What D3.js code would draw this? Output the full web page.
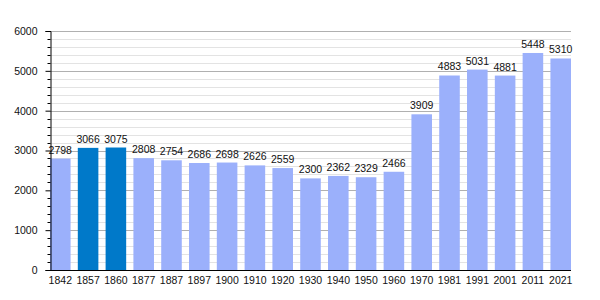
<!DOCTYPE html>
<html>
<head>
<meta charset="utf-8">
<script src="https://cdn.jsdelivr.net/npm/d3@7"></script>
<style>
  body { margin: 0; background: #fff; }
  svg text { font-family: "Liberation Sans", Arial, sans-serif; font-size: 10.5px; fill: #111; }
</style>
</head>
<body>
<svg class="chart"></svg>
<script>
const years = ["1842","1857","1860","1877","1887","1897","1900","1910","1920","1930","1940","1950","1960","1970","1981","1991","2001","2011","2021"]
const population = [2798,3066,3075,2808,2754,2686,2698,2626,2559,2300,2362,2329,2466,3909,4883,5031,4881,5448,5310]
const highlighted = ["1857","1860"]
const yTicks = [0,1000,2000,3000,4000,5000,6000]

const width = 600, height = 300
const margin = {left: 50, right: 29, top: 31, bottom: 30}
const svg = d3.select(".chart").attr("width", width).attr("height", height)

const x = d3.scaleBand().domain(years).range([margin.left, width - margin.right]).paddingInner(0.26).paddingOuter(0)
const y = d3.scaleLinear().domain([0, 6000]).range([height - margin.bottom, margin.top])

// minor grid every 200
const minor = d3.range(200, 6001, 200).filter(v => v % 1000 !== 0)
svg.append("g").selectAll("line").data(minor).join("line")
  .attr("x1", margin.left).attr("x2", width - margin.right)
  .attr("y1", d => Math.round(y(d)) + 0.5).attr("y2", d => Math.round(y(d)) + 0.5)
  .attr("stroke", "#e3e3e3")
// major grid
svg.append("g").selectAll("line").data(yTicks.slice(1)).join("line")
  .attr("x1", margin.left).attr("x2", width - margin.right)
  .attr("y1", d => Math.round(y(d)) + 0.5).attr("y2", d => Math.round(y(d)) + 0.5)
  .attr("stroke", "#b0b0b0")

// bars
svg.append("g").selectAll("rect").data(population).join("rect")
  .attr("x", (d, i) => x(years[i]))
  .attr("width", x.bandwidth())
  .attr("y", d => y(d))
  .attr("height", d => y(0) - y(d))
  .attr("fill", (d, i) => highlighted.includes(years[i]) ? "#0079c9" : "#9bb0fb")

// value labels
svg.append("g").selectAll("text").data(population).join("text")
  .attr("x", (d, i) => x(years[i]) + x.bandwidth() / 2)
  .attr("y", d => y(d) - 5)
  .attr("text-anchor", "middle")
  .text(d => d)

// y axis
const yAxis = svg.append("g").attr("transform", `translate(${margin.left + 0.5},0)`)
yAxis.call(d3.axisLeft(y).tickValues(yTicks).tickFormat(d3.format("d")).tickSize(5).tickPadding(8))
yAxis.select(".domain").attr("stroke", "#000")
yAxis.selectAll(".tick text").style("font-size", "10.5px").style("font-family", "Liberation Sans, Arial, sans-serif").attr("fill", "#111")
yAxis.selectAll(".tick line").attr("stroke", "#000")
yAxis.append("g").selectAll("line").data(minor).join("line")
  .attr("x1", -3).attr("x2", 0)
  .attr("y1", d => Math.round(y(d)) + 0.5).attr("y2", d => Math.round(y(d)) + 0.5)
  .attr("stroke", "#000")

// x axis
const xAxis = svg.append("g").attr("transform", `translate(0,${y(0) + 0.5})`)
xAxis.call(d3.axisBottom(x).tickSize(0).tickPadding(6))
xAxis.select(".domain").attr("stroke", "#000").attr("d", `M${margin.left},0H${width - margin.right}`)
xAxis.selectAll(".tick text").style("font-size", "10.5px").style("font-family", "Liberation Sans, Arial, sans-serif").attr("fill", "#111")
</script>
</body>
</html>
